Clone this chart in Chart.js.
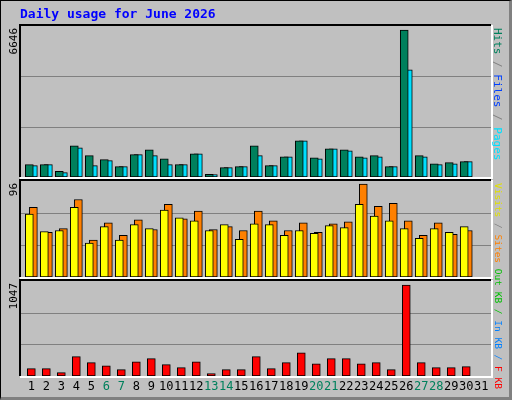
<!DOCTYPE html>
<html><head><meta charset="utf-8">
<script src="https://cdn.jsdelivr.net/npm/chart.js@4"></script>
<style>
body{margin:0;background:#fff}
#frame{position:absolute;left:0;top:0;width:508px;height:396px;background:#c0c0c0;border:1px solid #000;border-right:3px solid #808080;border-bottom:3px solid #808080}
canvas{position:absolute;left:0;top:0}
</style></head><body>
<div id="frame"></div>
<canvas id="c1" width="512" height="400"></canvas>
<canvas id="c2" width="512" height="400"></canvas>
<canvas id="c3" width="512" height="400"></canvas>
<script>
const days = [];
for (let d = 1; d <= 31; d++) days.push(d);
const weekend = [6, 7, 13, 14, 20, 21, 27, 28];
const hits = [556,556,256,1414,963,782,466,1008,1233,827,556,1053,120,421,466,1414,511,917,1639,872,1278,1233,917,963,466,6646,963,601,647,692,0];
const files = [511,556,196,1323,511,737,466,1008,963,556,556,1053,105,421,466,963,511,917,1639,827,1278,1188,872,917,466,4842,917,556,601,692,0];
const visits = [65,47,48,72,35,52,38,54,50,69,61,58,48,54,39,55,54,43,48,45,53,51,75,63,58,50,40,50,46,52,0];
const sites = [72,46,50,80,38,56,43,59,49,75,60,68,49,52,48,68,58,48,56,46,55,57,96,73,76,58,43,56,44,48,0];
const kbF = [84,84,38,222,153,118,73,164,199,130,96,164,27,73,73,222,84,153,267,141,199,199,141,153,73,1047,153,96,96,107,0];

const FONT = '"DejaVu Sans Mono", monospace';
const XMIN = 0.31, XMAX = 31.65;

function panelPlugin(opts) {
  return {
    id: 'panel',
    beforeDatasetsDraw(chart) {
      const {ctx, chartArea: a} = chart;
      const y = chart.scales.y;
      ctx.save();
      ctx.strokeStyle = '#808080';
      ctx.lineWidth = 1;
      [1, 2].forEach(i => {
        const py = Math.round(y.getPixelForValue(y.max * i / 3)) + 0.5;
        ctx.beginPath(); ctx.moveTo(a.left, py); ctx.lineTo(a.right, py); ctx.stroke();
      });
      ctx.restore();
    },
    afterDraw(chart) {
      const {ctx, chartArea: a} = chart;
      ctx.save();
      ctx.lineWidth = 2;
      ctx.strokeStyle = '#000';
      ctx.beginPath(); ctx.moveTo(a.left - 1, a.bottom); ctx.lineTo(a.left - 1, a.top - 1); ctx.lineTo(a.right, a.top - 1); ctx.stroke();
      ctx.strokeStyle = '#fff';
      ctx.beginPath(); ctx.moveTo(a.right + 1, a.top - 1); ctx.lineTo(a.right + 1, a.bottom + 1); ctx.lineTo(a.left - 1, a.bottom + 1); ctx.stroke();
      // left max label
      ctx.font = '11px ' + FONT;
      ctx.fillStyle = '#000';
      ctx.translate(17, a.top + 2);
      ctx.rotate(-Math.PI / 2);
      ctx.textAlign = 'right';
      ctx.textBaseline = 'alphabetic';
      ctx.fillText(opts.maxLabel, 0, 0);
      ctx.restore();
      // right legend, reading top to bottom
      ctx.save();
      ctx.font = (opts.legendSize || 11) + 'px ' + FONT;
      ctx.translate(497, a.top + 2);
      ctx.rotate(Math.PI / 2);
      ctx.textBaseline = 'middle';
      let x = 0;
      opts.legend.forEach(([t, c]) => {
        ctx.fillStyle = c;
        ctx.fillText(t, x, 0);
        x += ctx.measureText(t).width;
      });
      ctx.restore();
      if (opts.dayLabels) {
        const xs = chart.scales.x;
        ctx.save();
        ctx.font = '12px ' + FONT;
        ctx.textAlign = 'center';
        ctx.textBaseline = 'top';
        days.forEach(d => {
          ctx.fillStyle = weekend.includes(d) ? '#00805c' : '#000';
          ctx.fillText(String(d), xs.getPixelForValue(d), a.bottom + 5);
        });
        ctx.restore();
      }
    }
  };
}

function makeChart(id, top, bottom, series, max, opts) {
  const datasets = series.map((s, i) => ({
    data: s.values.map((v, k) => ({x: days[k] + (i - (series.length - 1) / 2) * 0.27, y: v})),
    backgroundColor: s.color,
    borderColor: '#000',
    borderWidth: 1,
    borderSkipped: false,
    barThickness: s.width || 8,
    grouped: false
  }));
  return new Chart(document.getElementById(id), {
    type: 'bar',
    data: {datasets},
    options: {
      responsive: false,
      animation: false,
      layout: {padding: {left: 21, right: 21, top: top, bottom: 400 - bottom}},
      plugins: {legend: {display: false}, tooltip: {enabled: false}},
      scales: {
        x: {type: 'linear', min: XMIN, max: XMAX, offset: false, display: false},
        y: {min: 0, max: max, display: false}
      }
    },
    plugins: [panelPlugin(opts)]
  });
}

makeChart('c1', 26, 177, [
  {values: hits, color: '#00805c'},
  {values: files, color: '#00e0ff'}
], 6646 * 151 / 147, {maxLabel: '6646', legend: [['Hits', '#00805c'], [' / ', '#808080'], ['Files', '#0040ff'], [' / ', '#808080'], ['Pages', '#00e0ff']]});

makeChart('c2', 181, 277, [
  {values: visits, color: '#ffff00'},
  {values: sites, color: '#ff8000'}
], 96 * 96 / 93, {maxLabel: '96', legendSize: 9.5, legend: [['Visits', '#e0e000'], [' / ', '#808080'], ['Sites', '#ff8000'], [' ', '#808080'], ['Out', '#00c000'], [' KB / ', '#00c000'], ['In', '#0080ff'], [' KB / ', '#0080ff'], ['F', '#ff0000'], [' KB', '#ff0000']]});

makeChart('c3', 281, 376, [
  {values: kbF, color: '#ff0000'}
], 1047 * 95 / 91, {maxLabel: '1047', legend: [], dayLabels: true});

// title
const t = document.getElementById('c3').getContext('2d');
t.font = 'bold 13px ' + FONT;
t.fillStyle = '#0000ff';
t.textBaseline = 'middle';
t.fillText('Daily usage for June 2026', 20, 15);
</script>
</body></html>
